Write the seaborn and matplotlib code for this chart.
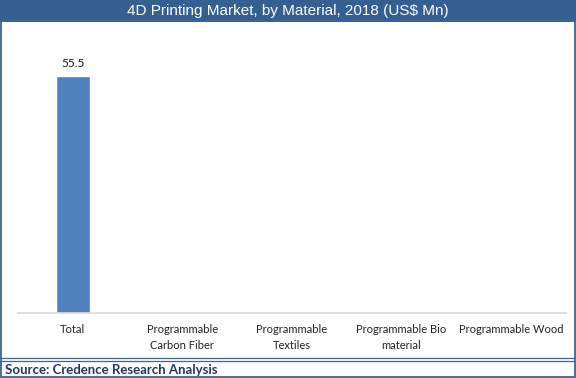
import matplotlib
matplotlib.use("Agg")
import matplotlib.pyplot as plt
import seaborn as sns
import pandas as pd
from matplotlib.patches import Rectangle
from matplotlib.lines import Line2D

categories = ["Total", "Programmable\nCarbon Fiber", "Programmable\nTextiles",
              "Programmable Bio\nmaterial", "Programmable Wood"]
values = [55.5, 0, 0, 0, 0]
value_labels = ["55.5", "", "", "", ""]

title = "4D Printing Market, by Material, 2018 (US$ Mn)"
source = "Source: Credence Research Analysis"

sns.set_theme(style="white")
plt.rcParams["font.family"] = ["Lato", "DejaVu Sans"]

W, H = 576, 378
fig = plt.figure(figsize=(W / 100, H / 100), dpi=100)
fig.patch.set_facecolor("white")

df = pd.DataFrame({"material": categories, "value": values})

ax = fig.add_axes([18 / W, (H - 313) / H, (566 - 18) / W, (313 - 40) / H])
sns.barplot(data=df, x="material", y="value", color="#4F81BD", width=0.31,
            saturation=1, ax=ax)
ax.set_ylim(0, 63.9)
ax.set_xlim(-0.5, len(categories) - 0.5)
ax.set_xlabel("")
ax.set_ylabel("")
ax.set_yticks([])
ax.tick_params(axis="x", length=0, labelsize=8, colors="#222222", pad=8)
for s in ["top", "right", "left"]:
    ax.spines[s].set_visible(False)
ax.spines["bottom"].set_color("#D9D9D9")
ax.spines["bottom"].set_linewidth(1.2)
for lab in ax.get_xticklabels():
    lab.set_linespacing(1.5)

for i, (v, t) in enumerate(zip(values, value_labels)):
    if t:
        ax.text(i, v + 1.6, t, ha="center", va="bottom", fontsize=8.5,
                color="#111111")

# title band
fig.add_artist(Rectangle((0, (H - 22) / H), 1, 22 / H, transform=fig.transFigure,
                         facecolor="#365F91", edgecolor="none"))
fig.text(0.5, (H - 11.5) / H, title, ha="center", va="center", color="white",
         fontsize=11, family=["Liberation Sans", "DejaVu Sans"])

# outer frame and source strip
frame_c = "#3B6496"
fig.add_artist(Rectangle((0.8 / W, 0.8 / H), (W - 1.6) / W, (H - 22) / H,
                         transform=fig.transFigure, facecolor="none",
                         edgecolor=frame_c, linewidth=1.3))
for yy in [(H - 358) / H, (H - 360.5) / H]:
    fig.add_artist(Line2D([0, 1], [yy, yy], transform=fig.transFigure,
                          color=frame_c, linewidth=0.9))
fig.text(5 / W, (H - 369.5) / H, source, ha="left", va="center",
         color="#1F3864", fontsize=9.5, fontweight="bold")

fig.savefig("out.png", dpi=100)
